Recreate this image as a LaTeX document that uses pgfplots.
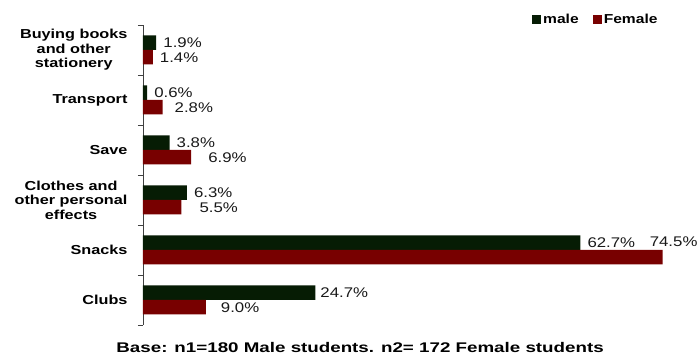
\documentclass[border=0pt]{standalone}
\usepackage{pgfplots}
\pgfplotsset{compat=1.18}
\usepackage{pgfplotstable}
\usepackage{fontspec}
\setmainfont{Liberation Sans}[FakeStretch=1.2]
\newfontfamily\catfont{Liberation Sans}[FakeStretch=1.25]
\newfontfamily\titlefont{Liberation Sans}[FakeStretch=1.34]
\definecolor{malec}{RGB}{6,28,4}
\definecolor{femalec}{RGB}{120,0,0}

\pgfplotstableread{
y x dx dy
0 24.7 5 0
1 62.7 7 0
2 6.3 7 0
3 3.8 7 0
4 0.6 7 0
5 1.9 7 0
}\maletab
\pgfplotstableread{
y x dx dy
0 9.0 15 0
1 74.5 -13 16
2 5.5 18 0
3 6.9 17 0
4 2.8 12 0
5 1.4 7 0
}\femaletab

\begin{document}
\begin{tikzpicture}
\begin{axis}[
  scale only axis, width=551pt, height=300pt,
  xbar, xmin=0, xmax=79, ymin=-0.5, ymax=5.5,
  axis x line=none, axis y line*=left,
  y axis line style={black!75},
  ytick={0,...,5},
  yticklabels={Clubs, Snacks, {Clothes and\\other personal\\effects}, Save, Transport, {Buying books\\and other\\stationery}},
  major tick length=0pt,
  minor ytick={-0.5,0.5,1.5,2.5,3.5,4.5,5.5},
  minor tick length=5pt,
  tick align=outside,
  tick style={black!75},
  yticklabel style={font=\catfont\bfseries\fontsize{13}{14.5}\selectfont, align=center, xshift=-12pt},
  bar width=14.5pt,
  point meta=x,
  nodes near coords={\pgfmathprintnumber[fixed,fixed zerofill,precision=1,assume math mode=true]{\pgfplotspointmeta}\%},
  visualization depends on={\thisrow{dx} \as \labdx},
  visualization depends on={\thisrow{dy} \as \labdy},
  every node near coord/.append style={anchor=west, inner sep=0pt, xshift=\labdx pt, yshift=\labdy pt, font=\fontsize{14}{16}\selectfont, text=black!90},
  legend columns=2,
  legend style={at={(axis description cs:0.706,1.018)}, anchor=west, draw=none, fill=none, inner sep=0pt,
    font=\bfseries\fontsize{13}{15}\selectfont,
    /tikz/every even column/.append style={column sep=12pt}},
  legend cell align=left,
  clip=false,
]
\addplot[fill=malec, draw=none, bar shift=7.25pt,
  legend image code/.code={\fill[malec] (0pt,-4.5pt) rectangle (9pt,4.5pt);}]
  table[x=x, y=y] {\maletab};
\addlegendentry{male}
\addplot[fill=femalec, draw=none, bar shift=-7.25pt,
  legend image code/.code={\fill[femalec] (0pt,-4.5pt) rectangle (9pt,4.5pt);}]
  table[x=x, y=y] {\femaletab};
\addlegendentry{Female}
\coordinate (bl) at (rel axis cs:0,0);
\coordinate (tl) at (rel axis cs:0,1);
\node[anchor=base, font=\titlefont\bfseries\fontsize{14}{16}\selectfont, inner sep=0pt] at (axis description cs:0.394,-0.092) {Base: n1=180 Male students. n2= 172 Female students};
\end{axis}
\pgfresetboundingbox
\path[use as bounding box] ([shift={(-143pt,-31pt)}]bl) rectangle ([shift={(554pt,25pt)}]tl);
\end{tikzpicture}
\end{document}
